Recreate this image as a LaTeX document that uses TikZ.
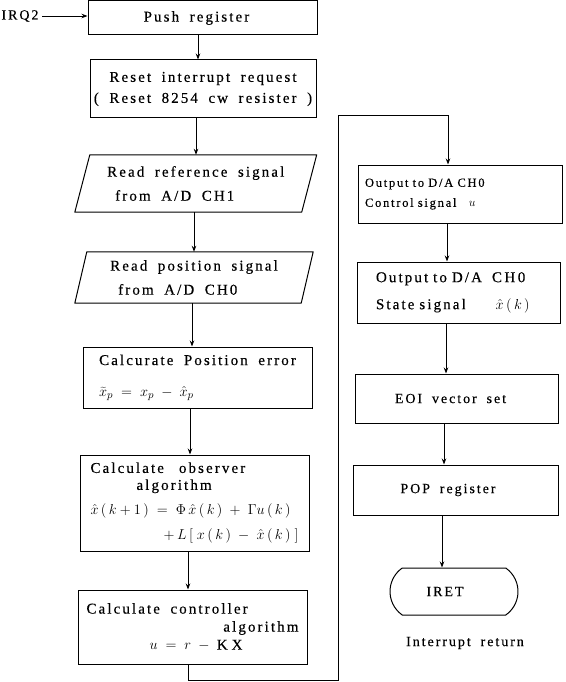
\documentclass[tikz,border=0pt]{standalone}
\usepackage{fontspec}
\setmainfont{Liberation Serif}[LetterSpace=14,WordSpace=1.8,FakeBold=0.35]
\usetikzlibrary{shapes.misc,arrows.meta,calc}
\begin{document}
\begin{tikzpicture}[x=1pt,y=-1pt,
  every node/.style={font=\fontsize{14}{20}\selectfont},
  big/.style={font=\fontsize{15}{20}\selectfont},
  boxsty/.style={draw, line width=1pt, rectangle, inner sep=0pt},
  shapeline/.style={draw, line width=1pt, line join=round},
  arr/.style={-{Stealth[length=6pt,width=4.5pt]}, line width=0.9pt},
  wire/.style={line width=0.9pt}]
\useasboundingbox (0,0) rectangle (565,682);

% left column
\node (irq) at (20,16) {IRQ2};
\node[boxsty, big, minimum width=229pt, minimum height=34pt] (push) at (202.5,18) {\hspace*{-12pt}Push register};
\node[boxsty, big, minimum width=226pt, minimum height=58pt, align=center] (reset) at (203,89)
  {Reset interrupt request\\[1pt]( Reset 8254 cw resister )};
\node[big, inner sep=0pt, minimum width=226.5pt, minimum height=57pt, align=left] (p1) at (195.75,183.5)
  {Read reference signal\\[4pt]\hspace*{8pt}from A/D CH1};
\draw[shapeline] ($(p1.south west)+(-7.5,0)$) -- ($(p1.north west)+(7.5,0)$) -- ($(p1.north east)+(7.5,0)$) -- ($(p1.south east)+(-7.5,0)$) -- cycle;
\node[big, inner sep=0pt, minimum width=226pt, minimum height=51pt, align=left] (p2) at (194,277.5)
  {Read position signal\\[4pt]\hspace*{8pt}from A/D CH0};
\draw[shapeline] ($(p2.south west)+(-6,0)$) -- ($(p2.north west)+(6,0)$) -- ($(p2.north east)+(6,0)$) -- ($(p2.south east)+(-6,0)$) -- cycle;
\node[boxsty, big, minimum width=229pt, minimum height=61pt, align=left] (err) at (197.5,377.5)
  {Calcurate Position error\\[11pt]$\widetilde{x}_p \;=\; x_p \;-\; \hat{x}_p$};
\node[boxsty, big, minimum width=229pt, minimum height=96pt, align=center] (obs) at (194.5,503)
  {\makebox[208pt][l]{Calculate\quad observer}\\[-3pt]
   \makebox[208pt][l]{\hspace*{46pt}algorithm}\\[5pt]
   \makebox[208pt][l]{$\hat{x}\,(\,k+1\,) \;=\; \Phi\,\hat{x}\,(\,k\,) \;+\; \Gamma u\,(\,k\,)$}\\[5pt]
   \makebox[208pt][r]{$+\,L\,[\;x\,(\,k\,) \;-\; \hat{x}\,(\,k\,)\;]$}};
\node[boxsty, big, minimum width=229pt, minimum height=74pt, align=center] (ctrl) at (192.5,627)
  {\makebox[212pt][l]{Calculate controller}\\[-2pt]
   \makebox[212pt][r]{algorithm}\\[-2pt]
   \makebox[212pt][l]{\hspace*{63pt}$u \;=\; r \;-\; \mathrm{K\;X}$}};

% right column
\node[boxsty, minimum width=204pt, minimum height=58pt, text width=190pt, align=left,
  font=\fontsize{12.5}{20}\selectfont] (out1) at (460,194)
  {Output to D/A CH0\\Control signal\quad $u$};
\node[boxsty, big, minimum width=203pt, minimum height=61pt, text width=165pt, align=left] (out2) at (458.5,292.5)
  {Output\ to\ D/A\ \ C\,H\,0\\[7pt]State\ signal\qquad $\hat{x}\,(\,k\,)$};
\node[boxsty, minimum width=203pt, minimum height=49pt] (eoi) at (456.5,398.5) {\hspace*{-12pt}EOI vector set};
\node[boxsty, minimum width=205pt, minimum height=50pt] (pop) at (455.5,490) {\hspace*{-15pt}POP register};
\node[draw, line width=1pt, rounded rectangle, rounded rectangle arc length=110, inner sep=0pt,
  minimum width=128pt, minimum height=47pt] (iret) at (454,591.5) {\hspace*{-18pt}IRET};
\node (ret) at (465,643) {Interrupt return};

% guide coordinates for connectors
\coordinate (c1) at (198,0);
\coordinate (c2) at (196,0);
\coordinate (c3) at (194,0);
\coordinate (c4) at (192,0);
\coordinate (c5) at (190,0);
\coordinate (b1) at (188,680);
\coordinate (b2) at (338,680);
\coordinate (b3) at (338,115);
\coordinate (b4) at (448,115);
\coordinate (c6) at (447,0);
\coordinate (c7) at (446,0);
\coordinate (c8) at (444,0);
\coordinate (c9) at (442,0);

% connectors
\draw[arr] (irq.east) -- (irq -| push.west);
\draw[arr] (push.south -| c1) -- (reset.north -| c1);
\draw[arr] (reset.south -| c2) -- (p1.north -| c2);
\draw[arr] (p1.south -| c3) -- (p2.north -| c3);
\draw[arr] (p2.south -| c4) -- (err.north -| c4);
\draw[arr] (err.south -| c5) -- (obs.north -| c5);
\draw[arr] (obs.south -| b1) -- (ctrl.north -| b1);
\draw[arr] (ctrl.south -| b1) -- (b1) -- (b2) -- (b3) -- (b4) -- (out1.north -| b4);
\draw[arr] (out1.south -| c6) -- (out2.north -| c6);
\draw[arr] (out2.south -| c7) -- (eoi.north -| c7);
\draw[arr] (eoi.south -| c8) -- (pop.north -| c8);
\draw[arr] (pop.south -| c9) -- (iret.north -| c9);
\end{tikzpicture}
\end{document}
